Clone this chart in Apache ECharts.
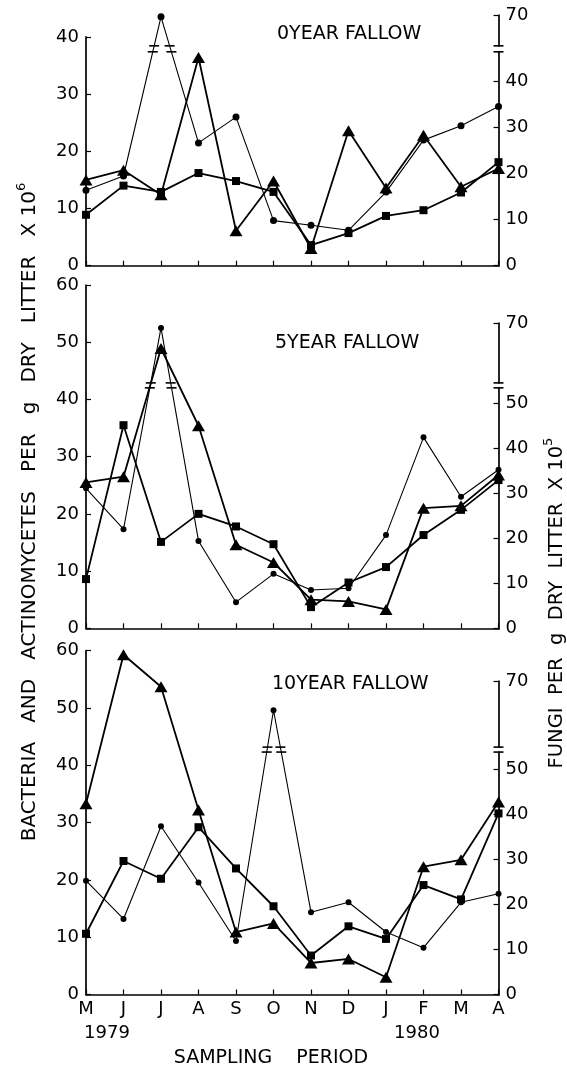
<!DOCTYPE html>
<html><head><meta charset="utf-8">
<script src="https://cdn.jsdelivr.net/npm/echarts@6/dist/echarts.min.js"></script>
<style>html,body{margin:0;padding:0;background:#fff}#c{width:567px;height:1068px}</style>
</head><body><div id="c"></div>
<script>
// ---------- data ----------
const months = ['M','J','J','A','S','O','N','D','J','F','M','A'];
const years = ['1979', '1980'];
const panelTitles = ['0YEAR FALLOW', '5YEAR FALLOW', '10YEAR FALLOW'];
// bacteria / actinomycetes (left axis, x10^6)
const triangles0 = [15.0, 16.7, 12.4, 36.4, 6.1, 14.8, 3.0, 23.6, 13.6, 22.8, 13.8, 17.0];
const squares0   = [8.9, 14.0, 12.9, 16.2, 14.8, 12.9, 3.6, 5.7, 8.7, 9.7, 12.8, 18.1];
const triangles5 = [25.5, 26.5, 48.9, 35.4, 14.6, 11.5, 5.0, 4.7, 3.3, 21.0, 21.4, 26.8];
const squares5   = [8.6, 35.5, 15.1, 20.0, 17.8, 14.7, 3.7, 8.0, 10.7, 16.3, 20.7, 25.9];
const triangles10 = [33.3, 59.3, 53.7, 32.2, 10.9, 12.4, 5.5, 6.2, 3.0, 22.3, 23.5, 33.6];
const squares10   = [10.6, 23.3, 20.2, 29.2, 22.0, 15.4, 6.8, 11.9, 9.7, 19.1, 16.6, 31.6];
// fungi (right axis, x10^5)
const circles0  = [16.4, 19.5, 69.6, 26.7, 32.3, 9.8, 8.8, 7.7, 16.0, 27.3, 30.4, 34.6];
const circles5  = [31.1, 22.0, 68.9, 19.4, 5.8, 12.1, 8.5, 8.9, 20.7, 42.4, 29.2, 35.2];
const circles10 = [25.3, 16.8, 37.4, 24.9, 11.9, 63.5, 18.3, 20.5, 13.9, 10.4, 20.5, 22.4];
// axis ticks
const leftTicks0 = [0, 10, 20, 30, 40];
const leftTicks  = [0, 10, 20, 30, 40, 50, 60];
const rightTicks0 = [0, 10, 20, 30, 40, 70];
const rightTicks  = [0, 10, 20, 30, 40, 50, 70];
// right-axis breaks [start, end, gap]
const rightBreaks = [[46.5, 63.3, 1.3], [53.4, 56.7, 1.1], [53.9, 55.3, 1.1]];

const triangles = [triangles0, triangles5, triangles10];
const squares = [squares0, squares5, squares10];
const circles = [circles0, circles5, circles10];
const leftTickSets = [leftTicks0, leftTicks, leftTicks];
const rightTickSets = [rightTicks0, rightTicks, rightTicks];

// ---------- layout ----------
const H = 1068;
const FONT = 'DejaVu Sans';
const layout = [
  {bottom: 265.7, leftTop: 36.9, rightTop: 15},
  {bottom: 628.3, leftTop: 285, rightTop: 323},
  {bottom: 994.5, leftTop: 650.7, rightTop: 681}
];
const GL = 86, GR = 68.5;

const grids = [], xAxes = [], yAxes = [], series = [];
const axisLineStyle = {color: '#000', width: 1.7};
for (let p = 0; p < 3; p++) {
  const L = layout[p];
  grids.push({left: GL, right: GR, top: L.leftTop, bottom: H - L.bottom, outerBoundsMode: 'none', containLabel: false});
  grids.push({left: GL, right: GR, top: L.rightTop, bottom: H - L.bottom, outerBoundsMode: 'none', containLabel: false});
  xAxes.push({
    gridIndex: 2 * p, type: 'category', data: months, boundaryGap: false,
    axisLine: {show: true, lineStyle: axisLineStyle},
    axisTick: {show: true, inside: true, length: 5, interval: 0, lineStyle: {color: '#000', width: 1.2}},
    axisLabel: {show: p === 2, interval: 0, color: '#000', fontFamily: FONT, fontSize: 18, margin: 6},
    splitLine: {show: false}
  });
  xAxes.push({gridIndex: 2 * p + 1, type: 'category', data: months, boundaryGap: false, show: false});
  const lt = leftTickSets[p];
  yAxes.push({
    gridIndex: 2 * p, type: 'value', position: 'left', min: 0, max: lt[lt.length - 1], interval: 10,
    axisLine: {show: true, lineStyle: axisLineStyle},
    axisTick: {show: true, inside: true, length: 5, lineStyle: {color: '#000', width: 1.2}},
    axisLabel: {color: '#000', fontFamily: FONT, fontSize: 18, margin: 7},
    splitLine: {show: false}
  });
  const rt = rightTickSets[p];
  const br = rightBreaks[p];
  yAxes.push({
    gridIndex: 2 * p + 1, type: 'value', position: 'right', min: 0, max: rt[rt.length - 1],
    breaks: [{start: br[0], end: br[1], gap: br[2]}],
    breakArea: {show: false},
    axisLine: {show: true, lineStyle: axisLineStyle},
    axisTick: {show: true, inside: true, length: 5, customValues: rt, lineStyle: {color: '#000', width: 1.2}},
    axisLabel: {color: '#000', fontFamily: FONT, fontSize: 18, margin: 7, customValues: rt},
    splitLine: {show: false}
  });
  series.push({
    type: 'line', xAxisIndex: 2 * p, yAxisIndex: 2 * p, data: triangles[p],
    symbol: 'triangle', symbolSize: [13, 11], showAllSymbol: true,
    lineStyle: {color: '#000', width: 1.8}, itemStyle: {color: '#000'}, z: 3
  });
  series.push({
    type: 'line', xAxisIndex: 2 * p, yAxisIndex: 2 * p, data: squares[p],
    symbol: 'rect', symbolSize: 8, showAllSymbol: true,
    lineStyle: {color: '#000', width: 1.8}, itemStyle: {color: '#000'}, z: 3
  });
  series.push({
    type: 'line', xAxisIndex: 2 * p + 1, yAxisIndex: 2 * p + 1, data: circles[p],
    symbol: 'circle', symbolSize: p === 0 ? 7 : 6, showAllSymbol: true,
    lineStyle: {color: '#000', width: 1.1}, itemStyle: {color: '#000'}, z: 4
  });
}

const chart = echarts.init(document.getElementById('c'), null, {renderer: 'canvas'});
chart.setOption({
  backgroundColor: '#fff',
  animation: false,
  textStyle: {fontFamily: FONT},
  grid: grids, xAxis: xAxes, yAxis: yAxes, series: series
});

// ---------- texts & break marks ----------
const graphics = [];
const titlePos = [[277, 34], [275, 343], [272, 684]];
for (let p = 0; p < 3; p++) {
  graphics.push({type: 'text', x: titlePos[p][0], y: titlePos[p][1], z: 100,
    style: {text: panelTitles[p], fill: '#000', font: '19px "DejaVu Sans"', align: 'left', verticalAlign: 'middle'}});
}
graphics.push({type: 'text', x: 30, y: 512, rotation: Math.PI / 2, z: 100,
  style: {text: 'BACTERIA   AND   ACTINOMYCETES   PER   g   DRY   LITTER   X 10{s|6}',
    fill: '#000', font: '20px "DejaVu Sans"', align: 'center', verticalAlign: 'middle',
    rich: {s: {fontSize: 13, fontFamily: FONT, verticalAlign: 'top', lineHeight: 30}}}});
graphics.push({type: 'text', x: 557, y: 603, rotation: Math.PI / 2, z: 100,
  style: {text: 'FUNGI  PER  g  DRY  LITTER  X 10{s|5}',
    fill: '#000', font: '19.5px "DejaVu Sans"', align: 'center', verticalAlign: 'middle',
    rich: {s: {fontSize: 13, fontFamily: FONT, verticalAlign: 'top', lineHeight: 30}}}});
graphics.push({type: 'text', x: 107, y: 1033, z: 100,
  style: {text: years[0], fill: '#000', font: '18px "DejaVu Sans"', align: 'center', verticalAlign: 'middle'}});
graphics.push({type: 'text', x: 417, y: 1033, z: 100,
  style: {text: years[1], fill: '#000', font: '18px "DejaVu Sans"', align: 'center', verticalAlign: 'middle'}});
graphics.push({type: 'text', x: 271, y: 1058, z: 100,
  style: {text: 'SAMPLING    PERIOD', fill: '#000', font: '19px "DejaVu Sans"', align: 'center', verticalAlign: 'middle'}});

function bar(x, y, half) {
  return {type: 'line', z: 101, shape: {x1: x - half, y1: y, x2: x + half, y2: y},
    style: {stroke: '#000', lineWidth: 1.6}};
}
for (let p = 0; p < 3; p++) {
  const si = 3 * p + 2;
  const br = rightBreaks[p];
  const data = circles[p];
  const pS = chart.convertToPixel({seriesIndex: si}, [11, br[0]]);
  const pE = chart.convertToPixel({seriesIndex: si}, [11, br[1]]);
  const ax = pS[0];
  graphics.push({type: 'rect', z: 100, shape: {x: ax - 3, y: pE[1] + 1.2, width: 6, height: Math.max(0, pS[1] - pE[1] - 2.4)},
    style: {fill: '#fff'}});
  graphics.push(bar(ax, pE[1], 5));
  graphics.push(bar(ax, pS[1], 5));
  for (let i = 0; i < data.length - 1; i++) {
    const a = data[i], b = data[i + 1];
    if ((a < br[0] && b > br[1]) || (a > br[1] && b < br[0])) {
      const q0 = chart.convertToPixel({seriesIndex: si}, [i, a]);
      const q1 = chart.convertToPixel({seriesIndex: si}, [i + 1, b]);
      [pS[1], pE[1]].forEach(function (yy) {
        const t = (yy - q0[1]) / (q1[1] - q0[1]);
        graphics.push(bar(q0[0] + t * (q1[0] - q0[0]), yy, 5));
      });
    }
  }
}
chart.setOption({graphic: graphics});
</script>
</body></html>
